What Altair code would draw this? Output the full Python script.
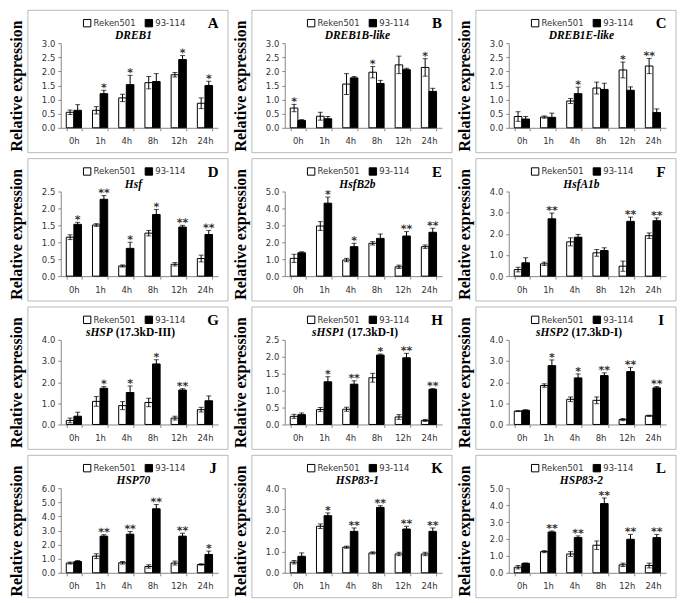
import altair as alt
import pandas as pd

TIMES = ["0h", "1h", "4h", "8h", "12h", "24h"]
SERIES = ["Reken501", "93-114"]

# ---- A: DREB1
A_R = [0.55, 0.62, 1.06, 1.60, 1.88, 0.87]
A_R_ERR = [0.08, 0.13, 0.13, 0.22, 0.08, 0.19]
A_L = [0.62, 1.21, 1.53, 1.64, 2.42, 1.50]
A_L_ERR = [0.20, 0.12, 0.33, 0.28, 0.14, 0.15]
A_R_SIG = ["", "", "", "", "", ""]
A_L_SIG = ["", "*", "*", "", "*", "*"]

# ---- B: DREB1B-like
B_R = [0.70, 0.41, 1.55, 1.97, 2.23, 2.14]
B_R_ERR = [0.13, 0.14, 0.37, 0.20, 0.31, 0.31]
B_L = [0.26, 0.32, 1.77, 1.57, 2.06, 1.29]
B_L_ERR = [0.03, 0.08, 0.05, 0.11, 0.05, 0.11]
B_R_SIG = ["*", "", "", "*", "", "*"]
B_L_SIG = ["", "", "", "", "", ""]

# ---- C: DREB1E-like
C_R = [0.40, 0.38, 0.95, 1.41, 2.05, 2.19]
C_R_ERR = [0.17, 0.04, 0.09, 0.21, 0.28, 0.27]
C_L = [0.31, 0.37, 1.21, 1.36, 1.33, 0.54]
C_L_ERR = [0.09, 0.15, 0.23, 0.22, 0.12, 0.13]
C_R_SIG = ["", "", "", "", "*", "**"]
C_L_SIG = ["", "", "*", "", "", ""]

# ---- D: Hsf
D_R = [1.15, 1.51, 0.30, 1.27, 0.35, 0.52]
D_R_ERR = [0.07, 0.04, 0.03, 0.08, 0.05, 0.10]
D_L = [1.53, 2.27, 0.82, 1.82, 1.45, 1.23]
D_L_ERR = [0.06, 0.11, 0.18, 0.15, 0.05, 0.12]
D_R_SIG = ["", "", "", "", "", ""]
D_L_SIG = ["*", "**", "*", "*", "**", "**"]

# ---- E: HsfB2b
E_R = [1.05, 2.96, 0.95, 1.94, 0.55, 1.74]
E_R_ERR = [0.24, 0.26, 0.10, 0.10, 0.10, 0.10]
E_L = [1.38, 4.31, 1.74, 2.23, 2.37, 2.59]
E_L_ERR = [0.06, 0.36, 0.20, 0.26, 0.26, 0.24]
E_R_SIG = ["", "", "", "", "", ""]
E_L_SIG = ["", "*", "*", "", "**", "**"]

# ---- F: HsfA1b
F_R = [0.31, 0.58, 1.62, 1.10, 0.47, 1.91]
F_R_ERR = [0.11, 0.08, 0.19, 0.16, 0.24, 0.13]
F_L = [0.63, 2.71, 1.84, 1.21, 2.59, 2.62]
F_L_ERR = [0.24, 0.27, 0.13, 0.13, 0.20, 0.13]
F_R_SIG = ["", "", "", "", "", ""]
F_L_SIG = ["", "**", "", "", "**", "**"]

# ---- G: sHSP (17.3kD-III)
G_R = [0.19, 1.09, 0.89, 1.04, 0.30, 0.70]
G_R_ERR = [0.11, 0.23, 0.19, 0.20, 0.09, 0.11]
G_L = [0.39, 1.71, 1.51, 2.86, 1.63, 1.12]
G_L_ERR = [0.19, 0.08, 0.31, 0.20, 0.06, 0.23]
G_R_SIG = ["", "", "", "", "", ""]
G_L_SIG = ["", "*", "*", "*", "**", ""]

# ---- H: sHSP1 (17.3kD-I)
H_R = [0.24, 0.44, 0.45, 1.38, 0.22, 0.12]
H_R_ERR = [0.06, 0.06, 0.06, 0.13, 0.07, 0.03]
H_L = [0.29, 1.26, 1.19, 2.05, 1.97, 1.04]
H_L_ERR = [0.05, 0.15, 0.10, 0.03, 0.13, 0.02]
H_R_SIG = ["", "", "", "", "", ""]
H_L_SIG = ["", "*", "**", "*", "**", "**"]

# ---- I: sHSP2 (17.3kD-I)
I_R = [0.63, 1.84, 1.19, 1.14, 0.23, 0.41]
I_R_ERR = [0.02, 0.08, 0.11, 0.16, 0.05, 0.03]
I_L = [0.67, 2.78, 2.20, 2.31, 2.50, 1.73]
I_L_ERR = [0.03, 0.27, 0.19, 0.13, 0.20, 0.06]
I_R_SIG = ["", "", "", "", "", ""]
I_L_SIG = ["", "*", "*", "**", "**", "**"]

# ---- J: HSP70
J_R = [0.69, 1.18, 0.71, 0.45, 0.69, 0.59]
J_R_ERR = [0.07, 0.17, 0.09, 0.12, 0.14, 0.05]
J_L = [0.80, 2.60, 2.74, 4.54, 2.60, 1.30]
J_L_ERR = [0.07, 0.10, 0.19, 0.30, 0.21, 0.24]
J_R_SIG = ["", "", "", "", "", ""]
J_L_SIG = ["", "**", "**", "**", "**", "*"]

# ---- K: HSP83-1
K_R = [0.50, 2.20, 1.21, 0.94, 0.89, 0.89]
K_R_ERR = [0.08, 0.11, 0.05, 0.05, 0.08, 0.08]
K_L = [0.78, 2.70, 1.96, 3.09, 2.07, 1.96]
K_L_ERR = [0.16, 0.13, 0.16, 0.08, 0.13, 0.16]
K_R_SIG = ["", "", "", "", "", ""]
K_L_SIG = ["", "*", "**", "**", "**", "**"]

# ---- L: HSP83-2
L_R = [0.33, 1.25, 1.11, 1.63, 0.47, 0.43]
L_R_ERR = [0.10, 0.06, 0.14, 0.25, 0.10, 0.14]
L_L = [0.56, 2.41, 2.08, 4.09, 1.98, 2.08]
L_L_ERR = [0.02, 0.06, 0.10, 0.33, 0.29, 0.19]
L_R_SIG = ["", "", "", "", "", ""]
L_L_SIG = ["", "**", "**", "**", "**", "**"]

# letter, gene (italic), suffix (upright), ymax, tick step, data lists
PANELS = [
    ("A", "DREB1", "", 3.0, 0.5, A_R, A_R_ERR, A_L, A_L_ERR, A_R_SIG, A_L_SIG),
    ("B", "DREB1B-like", "", 3.0, 0.5, B_R, B_R_ERR, B_L, B_L_ERR, B_R_SIG, B_L_SIG),
    ("C", "DREB1E-like", "", 3.0, 0.5, C_R, C_R_ERR, C_L, C_L_ERR, C_R_SIG, C_L_SIG),
    ("D", "Hsf", "", 2.5, 0.5, D_R, D_R_ERR, D_L, D_L_ERR, D_R_SIG, D_L_SIG),
    ("E", "HsfB2b", "", 5.0, 1.0, E_R, E_R_ERR, E_L, E_L_ERR, E_R_SIG, E_L_SIG),
    ("F", "HsfA1b", "", 4.0, 1.0, F_R, F_R_ERR, F_L, F_L_ERR, F_R_SIG, F_L_SIG),
    ("G", "sHSP", "(17.3kD-III)", 4.0, 1.0, G_R, G_R_ERR, G_L, G_L_ERR, G_R_SIG, G_L_SIG),
    ("H", "sHSP1", "(17.3kD-I)", 2.5, 0.5, H_R, H_R_ERR, H_L, H_L_ERR, H_R_SIG, H_L_SIG),
    ("I", "sHSP2", "(17.3kD-I)", 4.0, 1.0, I_R, I_R_ERR, I_L, I_L_ERR, I_R_SIG, I_L_SIG),
    ("J", "HSP70", "", 6.0, 1.0, J_R, J_R_ERR, J_L, J_L_ERR, J_R_SIG, J_L_SIG),
    ("K", "HSP83-1", "", 4.0, 1.0, K_R, K_R_ERR, K_L, K_L_ERR, K_R_SIG, K_L_SIG),
    ("L", "HSP83-2", "", 5.0, 1.0, L_R, L_R_ERR, L_L, L_L_ERR, L_R_SIG, L_L_SIG),
]

W, H = 158, 85
SERIF = "Liberation Serif"
SANS = "DejaVu Sans"
ONE = pd.DataFrame({"k": [0]})


def panel(letter, gene, suffix, ymax, step, r, re, l, le, rs, ls):
    rows = []
    for i, t in enumerate(TIMES):
        rows.append(dict(time=t, series=SERIES[0], v=r[i], lo=r[i] - re[i], hi=r[i] + re[i], sig=rs[i]))
        rows.append(dict(time=t, series=SERIES[1], v=l[i], lo=l[i] - le[i], hi=l[i] + le[i], sig=ls[i]))
    df = pd.DataFrame(rows)
    nt = int(round(ymax / step))
    ticks = [round(k * step, 1) for k in range(nt + 1)]

    xaxis = alt.Axis(labelAngle=0, tickBand="extent", domainColor="#888", tickColor="#888",
                     tickSize=3, labelPadding=6, labelFontSize=8.5, labelColor="#333",
                     labelFont=SANS, title=None)
    x = alt.X("time:N", sort=TIMES, title=None,
              scale=alt.Scale(paddingInner=0.42, paddingOuter=0.21), axis=xaxis)
    xo = alt.XOffset("series:N", sort=SERIES, scale=alt.Scale(paddingInner=0, paddingOuter=0))
    yaxis = alt.Axis(values=ticks, format=".1f", title="Relative expression",
                     titleFont=SERIF, titleFontSize=16, titleFontWeight="bold", titleColor="black",
                     titleX=-44, titleY=H / 2, titleAngle=270, titleAlign="center",
                     titleBaseline="middle", domainColor="#888", tickColor="#888", tickSize=3,
                     labelPadding=3, labelFontSize=8.5, labelColor="#333", labelFont=SANS,
                     grid=False)
    yscale = alt.Scale(domain=[0, ymax], nice=False)

    base = alt.Chart(df)
    bars = base.mark_bar(stroke="black", strokeWidth=1).encode(
        x=x, xOffset=xo,
        y=alt.Y("v:Q", scale=yscale, axis=yaxis, title="Relative expression"),
        fill=alt.Fill("series:N", sort=SERIES,
                      scale=alt.Scale(domain=SERIES, range=["white", "black"]),
                      legend=alt.Legend(title=None, orient="none", legendX=22, legendY=-25,
                                        direction="horizontal", symbolType="square",
                                        symbolSize=55, symbolStrokeColor="black",
                                        symbolStrokeWidth=1, labelFontSize=8.5, labelFont=SANS,
                                        labelColor="#333", columnPadding=6, labelOffset=2,
                                        padding=0)),
    )
    rules = base.mark_rule(color="black", strokeWidth=1).encode(
        x=x, xOffset=xo,
        y=alt.Y("lo:Q", scale=yscale, axis=yaxis, title="Relative expression"), y2="hi:Q")
    cap_hi = base.mark_tick(color="black", size=5, thickness=1, orient="horizontal").encode(
        x=x, xOffset=xo, y=alt.Y("hi:Q", scale=yscale, axis=yaxis, title="Relative expression"))
    cap_lo = base.mark_tick(color="black", size=5, thickness=1, orient="horizontal").encode(
        x=x, xOffset=xo, y=alt.Y("lo:Q", scale=yscale, axis=yaxis, title="Relative expression"))
    stars = base.mark_text(font=SANS, fontSize=11, fontWeight="bold", baseline="alphabetic",
                           dy=1, angle=0.3).encode(
        x=x, xOffset=xo, y=alt.Y("hi:Q", scale=yscale, axis=yaxis, title="Relative expression"),
        text="sig:N", fill=alt.value("#333333"))

    frame = alt.Chart(ONE).mark_rect(fillOpacity=0, stroke="#b8b8b8", strokeWidth=1).encode(
        x=alt.value(-33), x2=alt.value(W + 10), y=alt.value(-33), y2=alt.value(H + 25))
    letter_t = alt.Chart(ONE).mark_text(text=letter, font=SERIF, fontSize=15, fontWeight="bold",
                                        color="black", align="center", baseline="middle").encode(
        x=alt.value(W - 5), y=alt.value(-20))

    c = W / 2 - 6
    layers = [frame, bars, rules, cap_hi, cap_lo, stars, letter_t]
    if suffix:
        wi = 0.48 * 11.5 * len(gene)
        ws = 0.44 * 11.5 * len(suffix) + 3
        split = c - (wi + ws) / 2 + wi
        g1 = alt.Chart(ONE).mark_text(text=gene, font=SERIF, fontSize=11.5, fontWeight="bold",
                                      fontStyle="italic", color="black", align="right",
                                      baseline="middle").encode(x=alt.value(split), y=alt.value(-7))
        g2 = alt.Chart(ONE).mark_text(text=suffix, font=SERIF, fontSize=11.5, fontWeight="bold",
                                      color="black", align="left", dx=3,
                                      baseline="middle").encode(x=alt.value(split), y=alt.value(-7))
        layers += [g1, g2]
    else:
        g1 = alt.Chart(ONE).mark_text(text=gene, font=SERIF, fontSize=11.5, fontWeight="bold",
                                      fontStyle="italic", color="black", align="center",
                                      baseline="middle").encode(x=alt.value(c), y=alt.value(-7))
        layers.append(g1)
    return alt.layer(*layers).properties(width=W, height=H)


charts = [panel(*p) for p in PANELS]
rows = []
for i in range(4):
    row = alt.hconcat(*charts[i * 3:(i + 1) * 3], spacing=3).resolve_scale(
        y="independent", x="independent", fill="independent").resolve_legend(fill="independent")
    rows.append(row)

chart = alt.vconcat(*rows, spacing=4).resolve_scale(
    y="independent", x="independent", fill="independent").resolve_legend(
    fill="independent").properties(padding=0).configure_view(stroke=None).configure_axis(grid=False)

chart.save("out.html", embed_options={"renderer": "svg", "actions": False})
